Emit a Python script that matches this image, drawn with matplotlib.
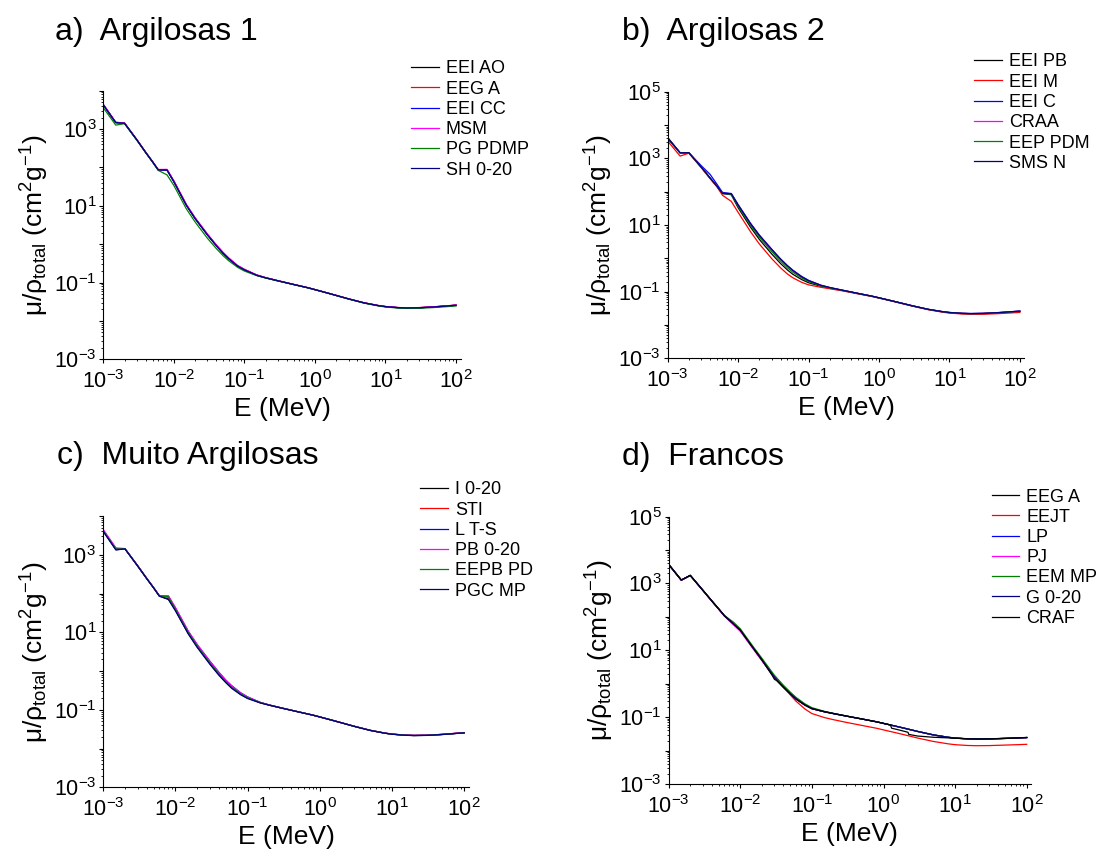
import numpy as np
import matplotlib
matplotlib.use('Agg')
import matplotlib.pyplot as plt
from matplotlib.ticker import FixedLocator, NullFormatter, FuncFormatter

plt.rcParams['font.family'] = ['Liberation Sans', 'DejaVu Sans']
plt.rcParams['mathtext.fontset'] = 'custom'
plt.rcParams['mathtext.rm'] = 'Liberation Sans'
plt.rcParams['mathtext.it'] = 'Liberation Sans:italic'
plt.rcParams['mathtext.bf'] = 'Liberation Sans:bold'
plt.rcParams['mathtext.sf'] = 'Liberation Sans'

# ---------------- data ----------------
E = [0.001, 0.0015, 0.002, 0.003, 0.004, 0.005, 0.006, 0.008, 0.01, 0.015, 0.02, 0.03,
     0.04, 0.05, 0.06, 0.08, 0.1, 0.15, 0.2, 0.3, 0.5, 0.8, 1.0, 1.5, 2.0, 3.0, 5.0,
     8.0, 10.0, 15.0, 20.0, 30.0, 50.0, 80.0, 100.0]

# a) Argilosas 1
a_labels = ['EEI AO', 'EEG A', 'EEI CC', 'MSM', 'PG PDMP', 'SH 0-20']
a_eei_ao = [4250, 1470, 1410, 515, 243, 139, 86, 85, 42.5, 10.4, 4.65, 1.73, 0.91, 0.575, 0.415, 0.268, 0.213, 0.154, 0.133, 0.111, 0.089, 0.073, 0.0655, 0.0535, 0.0462, 0.0375, 0.0295, 0.0250, 0.0236, 0.0222, 0.0218, 0.0221, 0.0233, 0.0249, 0.0257]
a_eeg_a = [4350, 1500, 1430, 525, 247, 141, 88, 88, 44, 10.8, 4.8, 1.8, 0.95, 0.6, 0.43, 0.276, 0.22, 0.157, 0.134, 0.111, 0.089, 0.073, 0.0655, 0.0535, 0.0462, 0.0375, 0.0295, 0.0251, 0.0237, 0.0223, 0.0219, 0.0222, 0.0234, 0.0250, 0.0258]
a_eei_cc = [4300, 1480, 1420, 520, 245, 140, 87, 86, 43, 10.5, 4.7, 1.75, 0.92, 0.58, 0.42, 0.27, 0.215, 0.155, 0.133, 0.111, 0.089, 0.073, 0.0655, 0.0535, 0.0462, 0.0375, 0.0295, 0.0250, 0.0236, 0.0222, 0.0218, 0.0220, 0.0232, 0.0248, 0.0256]
a_msm = [4400, 1510, 1430, 525, 248, 142, 88, 89, 45, 11.0, 4.9, 1.83, 0.96, 0.61, 0.44, 0.28, 0.222, 0.158, 0.135, 0.112, 0.09, 0.0735, 0.066, 0.0538, 0.0464, 0.0377, 0.0297, 0.0252, 0.0238, 0.0224, 0.0220, 0.0223, 0.0235, 0.0251, 0.0260]
a_pg_pdmp = [3600, 1270, 1380, 505, 240, 137, 84, 64, 34, 8.4, 3.8, 1.42, 0.77, 0.50, 0.37, 0.25, 0.2, 0.151, 0.131, 0.110, 0.0885, 0.0725, 0.065, 0.0532, 0.0458, 0.0371, 0.029, 0.0245, 0.0231, 0.0216, 0.0212, 0.0213, 0.0224, 0.0238, 0.0245]
a_sh = [4300, 1480, 1420, 520, 245, 140, 87, 86, 43, 10.5, 4.7, 1.75, 0.92, 0.58, 0.42, 0.27, 0.215, 0.155, 0.133, 0.111, 0.089, 0.073, 0.0655, 0.0535, 0.0462, 0.0375, 0.0295, 0.0250, 0.0236, 0.0222, 0.0218, 0.0220, 0.0232, 0.0248, 0.0256]

# b) Argilosas 2
b_labels = ['EEI PB', 'EEI M', 'EEI C', 'CRAA', 'EEP PDM', 'SMS N']
b_eei_pb = [3900, 1450, 1470, 540, 255, 145, 88, 81, 33, 8.6, 3.7, 1.35, 0.70, 0.45, 0.33, 0.23, 0.185, 0.145, 0.128, 0.109, 0.088, 0.0725, 0.065, 0.0532, 0.046, 0.0373, 0.0293, 0.0248, 0.0234, 0.0220, 0.0216, 0.0218, 0.0229, 0.0245, 0.0252]
b_eei_m = [3300, 1170, 1430, 520, 245, 140, 78, 51, 24, 6.3, 2.7, 0.98, 0.52, 0.34, 0.26, 0.19, 0.16, 0.135, 0.122, 0.106, 0.086, 0.0712, 0.064, 0.0524, 0.0452, 0.0366, 0.0287, 0.0242, 0.0228, 0.0214, 0.0209, 0.0210, 0.0219, 0.0232, 0.0238]
b_eei_c = [4200, 1480, 1480, 600, 330, 168, 95, 88, 41, 11.2, 5.0, 1.87, 0.96, 0.61, 0.44, 0.285, 0.218, 0.156, 0.133, 0.111, 0.089, 0.073, 0.0655, 0.0535, 0.0462, 0.0375, 0.0296, 0.0252, 0.0238, 0.0225, 0.0221, 0.0224, 0.0236, 0.0253, 0.0262]
b_craa = [4100, 1470, 1475, 545, 257, 146, 89, 86, 40, 10.9, 4.85, 1.8, 0.93, 0.59, 0.425, 0.275, 0.212, 0.154, 0.132, 0.11, 0.0888, 0.0728, 0.0653, 0.0534, 0.0461, 0.0374, 0.0294, 0.025, 0.0236, 0.0223, 0.0219, 0.0222, 0.0234, 0.0251, 0.0259]
b_eep_pdm = [4000, 1460, 1470, 540, 255, 145, 88, 84, 36, 9.8, 4.3, 1.6, 0.82, 0.52, 0.38, 0.255, 0.2, 0.15, 0.13, 0.11, 0.0885, 0.0726, 0.0652, 0.0533, 0.046, 0.0374, 0.0294, 0.0249, 0.0235, 0.0222, 0.0218, 0.0221, 0.0233, 0.025, 0.0258]
b_sms_n = [4150, 1470, 1470, 545, 258, 147, 89, 87, 40, 11.0, 4.9, 1.85, 0.95, 0.6, 0.43, 0.28, 0.215, 0.155, 0.133, 0.111, 0.089, 0.073, 0.0655, 0.0535, 0.0462, 0.0375, 0.0295, 0.0251, 0.0237, 0.0224, 0.022, 0.0223, 0.0235, 0.0252, 0.026]

# c) Muito Argilosas
c_labels = ['I 0-20', 'STI', 'L T-S', 'PB 0-20', 'EEPB PD', 'PGC MP']
c_i = [4100, 1350, 1430, 515, 244, 139, 86, 72, 37, 9.4, 4.2, 1.55, 0.80, 0.51, 0.37, 0.25, 0.2, 0.152, 0.132, 0.11, 0.0888, 0.0728, 0.0653, 0.0534, 0.0461, 0.0374, 0.0294, 0.0249, 0.0235, 0.0221, 0.0217, 0.0219, 0.0231, 0.0247, 0.0255]
c_sti = [4200, 1420, 1430, 518, 245, 140, 87, 80, 40, 10.1, 4.5, 1.65, 0.85, 0.54, 0.39, 0.26, 0.205, 0.153, 0.132, 0.11, 0.0888, 0.0729, 0.0654, 0.0535, 0.0462, 0.0375, 0.0295, 0.025, 0.0236, 0.0222, 0.0218, 0.022, 0.0232, 0.0248, 0.0256]
c_lts = [4300, 1450, 1440, 522, 247, 141, 87, 84, 42, 10.6, 4.8, 1.8, 0.93, 0.58, 0.42, 0.275, 0.215, 0.155, 0.133, 0.111, 0.089, 0.073, 0.0655, 0.0535, 0.0462, 0.0375, 0.0295, 0.0250, 0.0236, 0.0222, 0.0218, 0.022, 0.0232, 0.0248, 0.0256]
c_pb = [4500, 1500, 1440, 525, 248, 142, 88, 88, 44, 11.0, 4.9, 1.78, 0.92, 0.58, 0.42, 0.272, 0.214, 0.155, 0.133, 0.111, 0.089, 0.073, 0.0655, 0.0535, 0.0462, 0.0375, 0.0296, 0.0251, 0.0237, 0.0223, 0.0219, 0.0221, 0.0233, 0.025, 0.0258]
c_eepb = [4150, 1400, 1430, 518, 245, 140, 87, 82, 39.5, 10.0, 4.45, 1.62, 0.84, 0.53, 0.385, 0.258, 0.205, 0.153, 0.132, 0.11, 0.0888, 0.0729, 0.0654, 0.0534, 0.0461, 0.0374, 0.0294, 0.0249, 0.0235, 0.0221, 0.0217, 0.0219, 0.0231, 0.0247, 0.0255]
c_pgc = [4000, 1330, 1420, 512, 243, 139, 85, 70, 36, 9.2, 4.1, 1.5, 0.78, 0.5, 0.36, 0.245, 0.195, 0.15, 0.131, 0.11, 0.0885, 0.0727, 0.0652, 0.0533, 0.046, 0.0373, 0.0293, 0.0248, 0.0234, 0.022, 0.0216, 0.0218, 0.023, 0.0246, 0.0254]

# d) Francos
d_labels = ['EEG A', 'EEJT', 'LP', 'PJ', 'EEM MP', 'G 0-20', 'CRAF']
d_eeg_a = [3700, 1260, 1740, 625, 300, 172, 108, 62, 40, 12.0, 5.2, 1.55, 0.80, 0.50, 0.35, 0.23, 0.18, 0.145, 0.128, 0.108, 0.088, 0.0725, 0.065, 0.0532, 0.046, 0.0373, 0.0293, 0.0249, 0.0236, 0.0224, 0.0221, 0.0223, 0.0231, 0.0240, 0.0245]
d_eejt = [3700, 1260, 1740, 625, 300, 172, 108, 62, 40, 12.0, 5.2, 1.55, 0.79, 0.46, 0.30, 0.175, 0.128, 0.097, 0.084, 0.070, 0.0565, 0.0465, 0.0415, 0.034, 0.0293, 0.0237, 0.0187, 0.0159, 0.015, 0.0142, 0.014, 0.0141, 0.0146, 0.0151, 0.0154]
d_lp = [3690, 1258, 1735, 622, 299, 171, 107, 61, 39.5, 11.8, 5.1, 1.54, 0.80, 0.50, 0.35, 0.23, 0.18, 0.145, 0.128, 0.108, 0.088, 0.0725, 0.065, 0.0532, 0.046, 0.0373, 0.0293, 0.0249, 0.0236, 0.0224, 0.0221, 0.0223, 0.0231, 0.0240, 0.0245]
d_pj = [3650, 1250, 1720, 615, 295, 168, 105, 58, 37, 11.2, 4.9, 1.5, 0.78, 0.49, 0.345, 0.228, 0.178, 0.144, 0.127, 0.108, 0.088, 0.0725, 0.065, 0.0532, 0.046, 0.0373, 0.0293, 0.0249, 0.0236, 0.0223, 0.022, 0.0222, 0.023, 0.0239, 0.0244]
d_eem_mp = [3720, 1265, 1745, 628, 302, 174, 110, 70, 44, 13.2, 5.8, 1.78, 0.9, 0.56, 0.39, 0.25, 0.192, 0.149, 0.13, 0.109, 0.0885, 0.0728, 0.0652, 0.0534, 0.0462, 0.0375, 0.0295, 0.0251, 0.0238, 0.0226, 0.0223, 0.0225, 0.0233, 0.0242, 0.0247]
d_g = [3700, 1260, 1740, 625, 300, 172, 108, 62, 40, 12.0, 5.2, 1.56, 0.80, 0.50, 0.35, 0.23, 0.18, 0.145, 0.128, 0.108, 0.088, 0.0725, 0.065, 0.0533, 0.0461, 0.0374, 0.0294, 0.025, 0.0237, 0.0225, 0.0222, 0.0224, 0.0232, 0.0241, 0.0246]
E_craf = [0.001, 0.0015, 0.002, 0.003, 0.004, 0.005, 0.006, 0.008, 0.01, 0.015, 0.02, 0.028, 0.03, 0.032, 0.04, 0.05, 0.06, 0.08, 0.1, 0.15, 0.2, 0.3, 0.5, 0.8, 1.0, 1.25, 1.3, 1.5, 2.0, 2.2, 2.25, 3.0, 5.0, 8.0, 10.0, 15.0, 20.0, 30.0, 50.0, 80.0, 100.0]
d_craf = [3700, 1260, 1740, 625, 300, 172, 108, 62, 40, 12.0, 5.2, 1.75, 1.35, 1.25, 0.78, 0.50, 0.35, 0.23, 0.18, 0.145, 0.128, 0.108, 0.088, 0.0725, 0.065, 0.0585, 0.0465, 0.0435, 0.0372, 0.0352, 0.0305, 0.0272, 0.0250, 0.0240, 0.0234, 0.0224, 0.0221, 0.0223, 0.0231, 0.0240, 0.0245]

colors6 = ['#000000', '#FF0000', '#0000FF', '#FF00FF', '#008000', '#000080']
colors7 = ['#000000', '#FF0000', '#0000FF', '#FF00FF', '#008000', '#000080', '#000000']

W, H = 1105.0, 849.0
fig = plt.figure(figsize=(W / 100, H / 100), dpi=100)


def fbox(left, right, top, bottom):
    return [left / W, 1 - bottom / H, (right - left) / W, (bottom - top) / H]


def fmt(v, pos):
    k = int(round(np.log10(v)))
    return r'$10^{%d}$' % k


def yfmt(v, pos):
    k = int(round(np.log10(v)))
    if k % 2 == 0:
        return ''
    return r'$10^{%d}$' % k


def setup(ax, xmax, ymax_exp):
    ax.set_xscale('log')
    ax.set_yscale('log')
    ax.set_xlim(1e-3, xmax)
    ax.set_ylim(1e-3, 10.0 ** ymax_exp)
    for s in ['top', 'right']:
        ax.spines[s].set_visible(False)
    for s in ['left', 'bottom']:
        ax.spines[s].set_linewidth(0.8)
    ax.xaxis.set_major_locator(FixedLocator([10.0 ** k for k in range(-3, 3)]))
    ax.xaxis.set_major_formatter(FuncFormatter(fmt))
    xmin = [m * 10.0 ** k for k in range(-3, 2) for m in range(2, 10)]
    ax.xaxis.set_minor_locator(FixedLocator(xmin))
    ax.xaxis.set_minor_formatter(NullFormatter())
    ax.yaxis.set_major_locator(FixedLocator([10.0 ** k for k in range(-3, ymax_exp + 1)]))
    ax.yaxis.set_major_formatter(FuncFormatter(yfmt))
    ymin = [m * 10.0 ** k for k in range(-3, ymax_exp) for m in range(2, 10)]
    ax.yaxis.set_minor_locator(FixedLocator(ymin))
    ax.yaxis.set_minor_formatter(NullFormatter())
    ax.tick_params(which='major', direction='out', length=3.0, width=0.8, labelsize=15.5)
    ax.tick_params(which='minor', direction='out', length=1.7, width=0.6)
    ax.tick_params(axis='x', which='major', pad=5)
    ax.tick_params(axis='y', which='major', pad=2)
    ax.set_xlabel('E (MeV)', fontsize=19, labelpad=3)
    ax.set_ylabel(r'μ/ρ$_{\mathrm{total}}$ (cm$^{2}$g$^{-1}$)', fontsize=19, labelpad=2)


def add_legend(ax, x0, ytop, spacing=0.18):
    ax.legend(loc='upper left', bbox_to_anchor=(x0 / W, 1 - ytop / H),
              bbox_transform=fig.transFigure, frameon=False, fontsize=13,
              handlelength=1.55, handletextpad=0.38, labelspacing=spacing,
              borderpad=0, borderaxespad=0)


# Panel a
axa = fig.add_axes(fbox(103.3, 461, 90.7, 359.3))
setup(axa, 117.7, 4)
for y, lab, c in zip([a_eei_ao, a_eeg_a, a_eei_cc, a_msm, a_pg_pdmp, a_sh], a_labels, colors6):
    axa.plot(E, y, color=c, lw=0.9, label=lab)
add_legend(axa, 411, 60.4)
fig.text(55 / W, 1 - 40 / H, 'a)  Argilosas 1', fontsize=23, va='baseline')

# Panel b
axb = fig.add_axes(fbox(667.7, 1024.3, 91.7, 358.3))
setup(axb, 115.8, 5)
for y, lab, c in zip([b_eei_pb, b_eei_m, b_eei_c, b_craa, b_eep_pdm, b_sms_n], b_labels, colors6):
    axb.plot(E, y, color=c, lw=0.9, label=lab)
add_legend(axb, 974, 53.5)
fig.text(622 / W, 1 - 40 / H, 'b)  Argilosas 2', fontsize=23, va='baseline')

# Panel c
axc = fig.add_axes(fbox(103.2, 468.8, 516, 787.3))
setup(axc, 115.8, 4)
for y, lab, c in zip([c_i, c_sti, c_lts, c_pb, c_eepb, c_pgc], c_labels, colors6):
    axc.plot(E, y, color=c, lw=0.9, label=lab)
add_legend(axc, 420, 481.4)
fig.text(57 / W, 1 - 464 / H, 'c)  Muito Argilosas', fontsize=23, va='baseline')

# Panel d
axd = fig.add_axes(fbox(668.7, 1031, 516.6, 784))
setup(axd, 114.8, 5)
d_series = [d_eeg_a, d_eejt, d_lp, d_pj, d_eem_mp, d_g]
for y, lab, c in zip(d_series, d_labels[:6], colors7[:6]):
    axd.plot(E, y, color=c, lw=0.9, label=lab)
axd.plot(E_craf, d_craf, color=colors7[6], lw=0.9, label=d_labels[6])
add_legend(axd, 991.5, 488.5)
fig.text(622 / W, 1 - 465 / H, 'd)  Francos', fontsize=23, va='baseline')

fig.savefig('out.png', dpi=100)
